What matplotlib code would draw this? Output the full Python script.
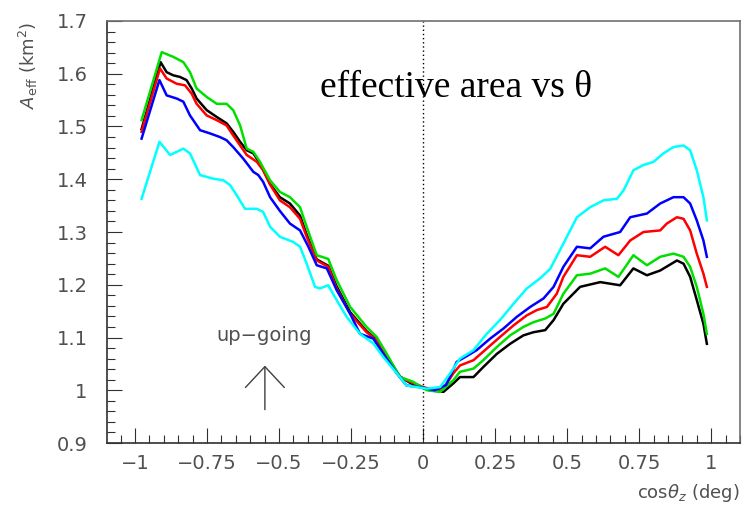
import matplotlib
matplotlib.use("Agg")
import matplotlib.pyplot as plt
from matplotlib.ticker import MultipleLocator

# cos(theta_z) sample points and effective area (km^2) for each curve
black_x = [-0.977, -0.911, -0.890, -0.867, -0.844, -0.821, -0.803, -0.786, -0.751, -0.716,
           -0.682, -0.659, -0.635, -0.612, -0.589, -0.566, -0.531, -0.497, -0.462, -0.427,
           -0.404, -0.369, -0.329, -0.300, -0.253, -0.196, -0.161, -0.126, -0.080, -0.045,
           -0.010, 0.024, 0.071, 0.105, 0.128, 0.175, 0.209, 0.256, 0.302, 0.348,
           0.383, 0.424, 0.453, 0.487, 0.545, 0.615, 0.684, 0.730, 0.777, 0.823,
           0.881, 0.904, 0.927, 0.950, 0.973, 0.985]
black_y = [1.495, 1.622, 1.603, 1.597, 1.594, 1.588, 1.572, 1.553, 1.531, 1.518,
           1.506, 1.490, 1.471, 1.455, 1.449, 1.430, 1.391, 1.366, 1.354, 1.331,
           1.295, 1.248, 1.236, 1.197, 1.148, 1.112, 1.096, 1.064, 1.026, 1.014,
           1.006, 1.000, 0.997, 1.013, 1.025, 1.025, 1.044, 1.069, 1.088, 1.104,
           1.110, 1.114, 1.133, 1.164, 1.196, 1.205, 1.199, 1.231, 1.218, 1.227,
           1.246, 1.240, 1.215, 1.171, 1.126, 1.088]

red_x = [-0.977, -0.913, -0.890, -0.855, -0.826, -0.803, -0.786, -0.751, -0.716, -0.682,
         -0.659, -0.635, -0.612, -0.577, -0.555, -0.531, -0.497, -0.462, -0.427, -0.404,
         -0.369, -0.329, -0.300, -0.253, -0.196, -0.161, -0.126, -0.080, -0.045, 0.001,
         0.040, 0.070, 0.105, 0.128, 0.175, 0.221, 0.267, 0.314, 0.360, 0.395,
         0.430, 0.464, 0.487, 0.534, 0.580, 0.632, 0.678, 0.719, 0.765, 0.823,
         0.846, 0.881, 0.904, 0.927, 0.950, 0.973, 0.985]
red_y = [1.490, 1.610, 1.591, 1.581, 1.578, 1.562, 1.543, 1.521, 1.512, 1.502,
         1.483, 1.464, 1.446, 1.433, 1.417, 1.390, 1.360, 1.347, 1.325, 1.291,
         1.246, 1.234, 1.193, 1.145, 1.110, 1.095, 1.063, 1.025, 1.016, 1.006,
         1.000, 1.003, 1.032, 1.047, 1.057, 1.079, 1.101, 1.123, 1.142, 1.152,
         1.158, 1.183, 1.215, 1.256, 1.253, 1.272, 1.256, 1.284, 1.300, 1.303,
         1.316, 1.328, 1.325, 1.303, 1.259, 1.221, 1.196]

green_x = [-0.977, -0.907, -0.867, -0.832, -0.809, -0.786, -0.751, -0.716, -0.682, -0.659,
           -0.635, -0.612, -0.589, -0.566, -0.531, -0.497, -0.462, -0.427, -0.404, -0.369,
           -0.329, -0.300, -0.253, -0.196, -0.161, -0.126, -0.080, -0.034, 0.013, 0.059,
           0.105, 0.128, 0.175, 0.209, 0.256, 0.302, 0.348, 0.383, 0.424, 0.453,
           0.487, 0.534, 0.580, 0.632, 0.678, 0.730, 0.777, 0.823, 0.869, 0.904,
           0.927, 0.950, 0.973, 0.985]
green_y = [1.512, 1.641, 1.632, 1.622, 1.603, 1.572, 1.556, 1.543, 1.543, 1.531,
           1.502, 1.458, 1.452, 1.433, 1.398, 1.376, 1.366, 1.347, 1.310, 1.256,
           1.249, 1.209, 1.158, 1.120, 1.101, 1.069, 1.025, 1.016, 1.000, 0.997,
           1.019, 1.035, 1.041, 1.057, 1.082, 1.104, 1.120, 1.129, 1.136, 1.145,
           1.183, 1.218, 1.221, 1.231, 1.215, 1.256, 1.237, 1.253, 1.259, 1.253,
           1.234, 1.196, 1.145, 1.107]

blue_x = [-0.977, -0.915, -0.890, -0.855, -0.832, -0.809, -0.774, -0.740, -0.705, -0.682,
          -0.659, -0.624, -0.589, -0.572, -0.555, -0.531, -0.497, -0.462, -0.427, -0.398,
          -0.369, -0.334, -0.300, -0.253, -0.219, -0.173, -0.138, -0.091, -0.057, -0.010,
          0.040, 0.080, 0.117, 0.146, 0.186, 0.233, 0.279, 0.325, 0.372, 0.418,
          0.453, 0.487, 0.534, 0.580, 0.626, 0.684, 0.719, 0.777, 0.823, 0.869,
          0.904, 0.927, 0.950, 0.973, 0.985]
blue_y = [1.477, 1.588, 1.559, 1.553, 1.547, 1.521, 1.493, 1.487, 1.480, 1.474,
          1.461, 1.439, 1.414, 1.408, 1.395, 1.366, 1.340, 1.316, 1.303, 1.272,
          1.237, 1.231, 1.190, 1.145, 1.107, 1.098, 1.069, 1.032, 1.009, 1.006,
          1.000, 1.010, 1.054, 1.063, 1.076, 1.098, 1.117, 1.139, 1.158, 1.174,
          1.196, 1.234, 1.272, 1.269, 1.291, 1.300, 1.328, 1.335, 1.354, 1.366,
          1.366, 1.354, 1.322, 1.284, 1.253]

cyan_x = [-0.977, -0.915, -0.878, -0.832, -0.809, -0.774, -0.728, -0.693, -0.670, -0.647,
          -0.618, -0.577, -0.555, -0.531, -0.497, -0.450, -0.427, -0.404, -0.375, -0.358,
          -0.329, -0.300, -0.265, -0.219, -0.173, -0.138, -0.091, -0.057, -0.022, 0.013,
          0.059, 0.094, 0.128, 0.175, 0.221, 0.267, 0.314, 0.360, 0.406, 0.441,
          0.487, 0.534, 0.580, 0.626, 0.673, 0.696, 0.730, 0.765, 0.800, 0.834,
          0.869, 0.904, 0.927, 0.950, 0.973, 0.985]
cyan_y = [1.363, 1.471, 1.446, 1.458, 1.449, 1.408, 1.401, 1.398, 1.389, 1.370,
          1.344, 1.344, 1.338, 1.310, 1.291, 1.281, 1.272, 1.240, 1.196, 1.193,
          1.199, 1.171, 1.139, 1.107, 1.089, 1.063, 1.032, 1.009, 1.006, 1.003,
          1.006, 1.032, 1.060, 1.076, 1.107, 1.133, 1.164, 1.193, 1.212, 1.230,
          1.278, 1.328, 1.347, 1.360, 1.363, 1.379, 1.417, 1.427, 1.433, 1.449,
          1.461, 1.464, 1.455, 1.417, 1.366, 1.322]

x_ticks = [-1, -0.75, -0.5, -0.25, 0, 0.25, 0.5, 0.75, 1]
x_tick_labels = ["\u22121", "\u22120.75", "\u22120.5", "\u22120.25", "0", "0.25", "0.5", "0.75", "1"]
y_ticks = [0.9, 1, 1.1, 1.2, 1.3, 1.4, 1.5, 1.6, 1.7]
y_tick_labels = ["0.9", "1", "1.1", "1.2", "1.3", "1.4", "1.5", "1.6", "1.7"]

label_grey = "#505050"

fig = plt.figure(figsize=(7.42, 5.07), dpi=100)
ax = fig.add_axes([0.1442, 0.1262, 0.8531, 0.8324])

ax.axvline(0, color="black", lw=1.0, ls=(0, (1, 2)))

curves = [
    (black_x, black_y, "black"),
    (red_x, red_y, "#ff0000"),
    (green_x, green_y, "#00e000"),
    (blue_x, blue_y, "#0000ff"),
    (cyan_x, cyan_y, "#00ffff"),
]
for xs, ys, col in curves:
    ax.plot(xs, ys, color=col, lw=1.8, solid_joinstyle="round")

ax.set_xlim(-1.097, 1.10)
ax.set_ylim(0.9, 1.7)

ax.set_xticks(x_ticks)
ax.set_xticklabels(x_tick_labels)
ax.set_yticks(y_ticks)
ax.set_yticklabels(y_tick_labels)
ax.xaxis.set_minor_locator(MultipleLocator(0.05))
ax.yaxis.set_minor_locator(MultipleLocator(0.02))

ax.tick_params(which="both", direction="in", top=False, right=False,
               color="#303030", width=0.8, labelcolor=label_grey, labelsize=14)
ax.tick_params(which="major", length=11)
ax.tick_params(which="minor", length=5.5)
ax.tick_params(axis="y", pad=14)
ax.tick_params(axis="x", pad=8)

for side in ["left", "bottom"]:
    ax.spines[side].set_color("#303030")
    ax.spines[side].set_linewidth(1.2)
for side in ["top", "right"]:
    ax.spines[side].set_color("#707070")
    ax.spines[side].set_linewidth(1.2)

ax.text(0.115, 1.574, "effective area vs \u03b8", family="Liberation Serif",
        fontsize=27, ha="center", va="center", color="black")

ax.text(-0.552, 1.104, "up\u2212going", fontsize=14, color=label_grey,
        ha="center", va="center")
ax.annotate("", xy=(-0.549, 1.052), xytext=(-0.549, 0.958),
            arrowprops=dict(arrowstyle="->,head_length=0.75,head_width=0.7",
                            mutation_scale=20, color="#404040", lw=1.0))

fig.text(28 / 742, 1 - 22 / 507, r"$A_{\rm eff}$ (km$^2$)", rotation=90,
         ha="center", va="top", fontsize=13, color=label_grey)
fig.text(740 / 742, 1 - 493 / 507, r"cos$\theta_z$ (deg)", ha="right",
         va="center", fontsize=13, color=label_grey)

fig.savefig("out.png", dpi=100)
plt.close(fig)
